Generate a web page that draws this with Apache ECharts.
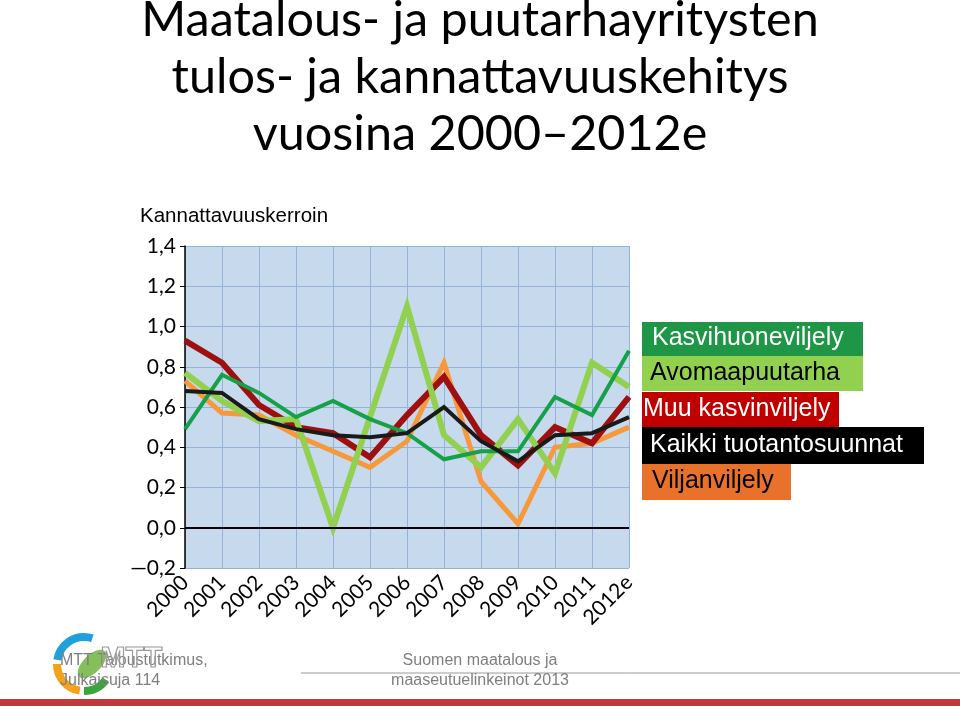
<!DOCTYPE html>
<html>
<head>
<meta charset="utf-8">
<script src="https://cdn.jsdelivr.net/npm/echarts@6/dist/echarts.min.js"></script>
<style>
html,body{margin:0;padding:0;background:#fff;}
#chart{width:960px;height:706px;}
</style>
</head>
<body>
<div id="chart"></div>
<script>
const categories = ['2000','2001','2002','2003','2004','2005','2006','2007','2008','2009','2010','2011','2012e'];
const kasvihuone = [0.49, 0.76, 0.67, 0.55, 0.63, 0.54, 0.47, 0.34, 0.38, 0.38, 0.65, 0.56, 0.88];
const avomaa     = [0.77, 0.63, 0.53, 0.54, 0.00, 0.55, 1.10, 0.46, 0.30, 0.54, 0.27, 0.82, 0.70];
const muuKasvin  = [0.93, 0.82, 0.61, 0.50, 0.47, 0.35, 0.56, 0.75, 0.46, 0.31, 0.50, 0.42, 0.65];
const kaikki     = [0.68, 0.67, 0.54, 0.49, 0.46, 0.45, 0.47, 0.60, 0.43, 0.33, 0.46, 0.47, 0.55];
const vilja      = [0.73, 0.57, 0.56, 0.46, 0.38, 0.30, 0.43, 0.82, 0.23, 0.02, 0.40, 0.42, 0.50];
const seriesNames = ['Kasvihuoneviljely','Avomaapuutarha','Muu kasvinviljely','Kaikki tuotantosuunnat','Viljanviljely'];
const titleLines = ['Maatalous- ja puutarhayritysten', 'tulos- ja kannattavuuskehitys', 'vuosina 2000\u20132012e'];
const yTicks = {min: -0.2, max: 1.4, interval: 0.2};

const chart = echarts.init(document.getElementById('chart'), null, {renderer: 'canvas'});

const legendStyles = [
  {bg:'#1e9646', fg:'#ffffff', top:322, h:34, w:221, tx:652},
  {bg:'#92d050', fg:'#000000', top:356, h:35, w:221, tx:650},
  {bg:'#c00000', fg:'#ffffff', top:392, h:36, w:197, tx:643},
  {bg:'#000000', fg:'#ffffff', top:427, h:37, w:282, tx:650},
  {bg:'#e8722c', fg:'#000000', top:464, h:36, w:149, tx:652}
];
const legendGraphics = [];
seriesNames.forEach((name, i) => {
  const s = legendStyles[i];
  legendGraphics.push({
    type:'rect', left:642, top:s.top, shape:{width:s.w, height:s.h},
    style:{fill:s.bg}, z:10
  });
  legendGraphics.push({
    type:'text', left:s.tx, top:s.top + s.h/2 - 13,
    style:{text:name, fill:s.fg, font:'25px "Liberation Sans", Arial, sans-serif'}, z:11
  });
});

const titleGraphics = titleLines.map((t, i) => ({
  type:'text', x:480, y:-4 + i*57,
  style:{text:t, fill:'#000', font:'48.5px Lato, "Open Sans", sans-serif', textAlign:'center', textVerticalAlign:'top'}, z:5
}));

const footer = [
  {type:'text', left:60, top:653, style:{text:'MTT Taloustutkimus,', fill:'#7f7f7f', font:'16px "Liberation Sans", Arial, sans-serif'}, z:5},
  {type:'text', left:60, top:673, style:{text:'Julkaisuja 114', fill:'#7f7f7f', font:'16px "Liberation Sans", Arial, sans-serif'}, z:5},
  {type:'text', left:100, top:643, style:{text:'MTT', fill:'rgba(0,0,0,0)', stroke:'#9a9a9a', lineWidth:1.2, font:'bold 30px "Liberation Sans", Arial, sans-serif'}, z:6},
  {type:'arc', shape:{cx:84, cy:664, r:27, startAngle:Math.PI*1.05, endAngle:Math.PI*1.6}, style:{stroke:'#1ea0dc', lineWidth:8, fill:null}, z:4},
  {type:'arc', shape:{cx:84, cy:664, r:27, startAngle:Math.PI*0.55, endAngle:Math.PI*1.0}, style:{stroke:'#f4a21b', lineWidth:8, fill:null}, z:4},
  {type:'arc', shape:{cx:84, cy:664, r:27, startAngle:Math.PI*0.2, endAngle:Math.PI*0.5}, style:{stroke:'#3aa53a', lineWidth:8, fill:null}, z:4},
  {type:'ellipse', shape:{cx:0, cy:0, rx:18, ry:9}, x:92, y:664, rotation:Math.PI/4, style:{fill:'rgba(110,180,60,0.85)'}, z:4},
  {type:'text', left:'center', top:653, style:{text:'Suomen maatalous ja', fill:'#7f7f7f', font:'16px "Liberation Sans", Arial, sans-serif', align:'center'}, z:5},
  {type:'line', shape:{x1:301, y1:673, x2:960, y2:673}, style:{stroke:'#9a9a9a', lineWidth:1}, z:4},
  {type:'text', left:'center', top:673, style:{text:'maaseutuelinkeinot 2013', fill:'#7f7f7f', font:'16px "Liberation Sans", Arial, sans-serif', align:'center'}, z:5},
  {type:'rect', left:0, top:699, shape:{width:960, height:7}, style:{fill:'#c0393b'}, z:4},
  {type:'text', left:140, top:206, style:{text:'Kannattavuuskerroin', fill:'#000', font:'20.5px "Liberation Sans", Arial, sans-serif'}, z:5}
];

const lineSeries = (name, data, color, width, z) => ({
  name, type:'line', data, symbol:'none', z,
  lineStyle:{color, width, cap:'butt', join:'miter'},
  itemStyle:{color}, animation:false
});

const option = {
  animation:false,
  backgroundColor:'#ffffff',
  grid:{left:185, right:331, top:246, bottom:138, show:true, backgroundColor:'#c6d9ed', borderWidth:0},
  xAxis:{
    type:'category', data:categories, boundaryGap:false,
    axisLine:{show:false}, axisTick:{show:false},
    splitLine:{show:true, lineStyle:{color:'#95b3d7', width:1}},
    axisLabel:{rotate:45, fontFamily:'Lato, sans-serif', fontSize:21, color:'#000', margin:11, interval:0}
  },
  yAxis:{
    type:'value', min:yTicks.min, max:yTicks.max, interval:yTicks.interval,
    axisLine:{show:true, lineStyle:{color:'#000', width:1.5}},
    axisTick:{show:true, length:5, lineStyle:{color:'#000'}},
    splitLine:{show:true, lineStyle:{color:'#95b3d7', width:1}},
    axisLabel:{fontFamily:'Lato, sans-serif', fontSize:21, color:'#000', margin:9,
      formatter: v => (v < -1e-9 ? '\u2014' : '') + Math.abs(v).toFixed(1).replace('.', ',')}
  },
  series:[
    Object.assign(lineSeries(seriesNames[4], vilja, '#f7993a', 5, 2), {
      markLine:{silent:true, symbol:'none', label:{show:false}, animation:false,
        lineStyle:{color:'#000', width:2, type:'solid'}, data:[{yAxis:0}]}
    }),
    lineSeries(seriesNames[2], muuKasvin, '#9e1010', 6, 3),
    lineSeries(seriesNames[1], avomaa, '#92d050', 6, 4),
    lineSeries(seriesNames[0], kasvihuone, '#16a048', 4, 5),
    lineSeries(seriesNames[3], kaikki, '#1a1a1a', 4, 6)
  ],
  graphic: titleGraphics.concat(legendGraphics, footer)
};
chart.setOption(option);
</script>
</body>
</html>
